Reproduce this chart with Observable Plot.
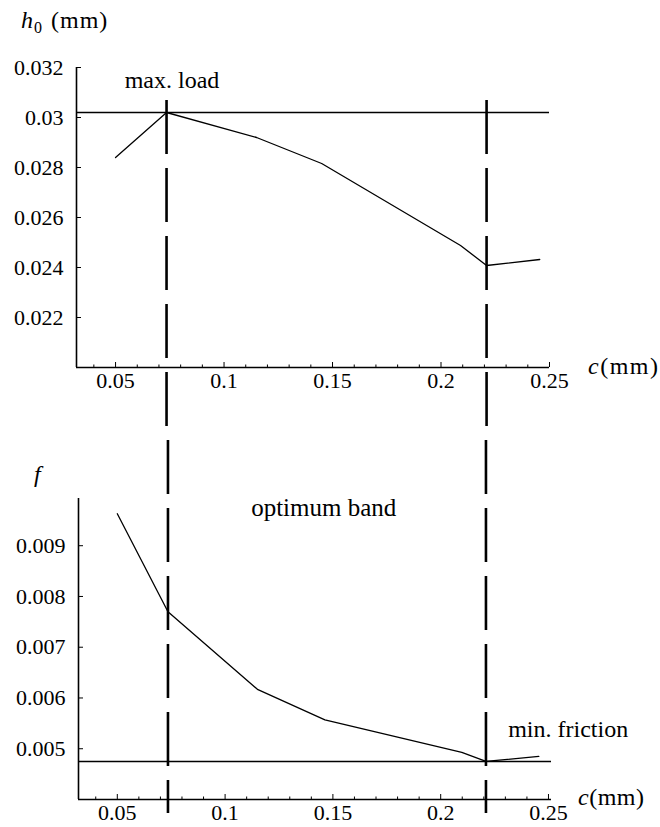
<!DOCTYPE html>
<html><head><meta charset="utf-8">
<script src="https://cdn.jsdelivr.net/npm/d3@7"></script>
<script src="https://cdn.jsdelivr.net/npm/@observablehq/plot@0.6"></script>
<style>
body{margin:0;background:#fff;}
#wrap{position:relative;width:660px;height:827px;overflow:hidden;font-family:'Liberation Serif';}
#wrap svg{position:absolute;left:0;}
.lbl{position:absolute;font-family:'Liberation Serif';line-height:0;white-space:nowrap;color:#000;}
</style></head><body><div id="wrap"></div>
<script>
// ---- data ----
const cH = [0.05, 0.0735, 0.115, 0.145, 0.209, 0.221, 0.2455];
const h0Values = [0.0284, 0.0302, 0.0292, 0.02816, 0.02488, 0.02408, 0.02432];
const cF = [0.05, 0.0735, 0.115, 0.1463, 0.2098, 0.221, 0.2455];
const fValues = [0.00963, 0.0077, 0.00617, 0.00557, 0.00493, 0.00475, 0.00485];
const xTicks = [0.05, 0.1, 0.15, 0.2, 0.25];
const xMinorTicks = [0.04,0.06,0.07,0.08,0.09,0.11,0.12,0.13,0.14,0.16,0.17,0.18,0.19,0.21,0.22,0.23,0.24];
const h0Ticks = [0.022, 0.024, 0.026, 0.028, 0.03, 0.032];
const fTicks = [0.005, 0.006, 0.007, 0.008, 0.009];
const optimumC = [0.0735, 0.221];
const maxLoad = [0.0302];
const minFriction = [0.00475];
const topNotes = [{c: 0.076, v: 0.0315, label: "max. load"}];
const bandNotes = [{c: (optimumC[0] + optimumC[1]) / 2 - 0.0015, v: 0.00975, label: "optimum band"}];
const frictionNotes = [{c: 0.2313, v: 0.00538, label: "min. friction"}];

const hData = cH.map((c, i) => ({c, v: h0Values[i]}));
const fData = cF.map((c, i) => ({c, v: fValues[i]}));

// ---- layout ----
const W = 660;
const topH = 430, botH = 397;
const topM = {l: 76, r: 111, t: 67, b: 63};
const botM = {l: 78, r: 109, t: 68, b: 28};
const xDomTop = [0.032, 0.25];
const xDomBot = [0.032, 0.2514];
const h0Dom = [0.020, 0.032];
const fDom = [0.004, 0.00993];

// dashed guide extents (pixel -> data through linear scales)
const yTopScale = d3.scaleLinear().domain(h0Dom).range([topH - topM.b, topM.t]);
const yBotScale = d3.scaleLinear().domain(fDom).range([botH - botM.b, botM.t]);
const dashTop1 = yTopScale.invert(100), dashTop2 = yTopScale.invert(topH);
const dashBot1 = yBotScale.invert(0), dashBot2 = yBotScale.invert(383);
const DASH = "54,14";

function axes(xDom, yDom, yTicks) {
  return [
    Plot.axisY(yTicks, {tickSize: 0, tickPadding: 13, tickFormat: d => String(d), fontSize: 22, label: null}),
    Plot.axisY(yTicks, {tickSize: -5, tickFormat: () => "", label: null}),
    Plot.axisX(xTicks, {tickSize: 0, tickPadding: 5, tickFormat: d => String(d), fontSize: 22, label: null}),
    Plot.axisX(xTicks, {tickSize: -5, tickFormat: () => "", label: null}),
    Plot.axisX(xMinorTicks, {tickSize: -2.5, tickFormat: () => "", label: null}),
    Plot.ruleX([xDom[0]], {strokeWidth: 1.6}),
    Plot.ruleY([yDom[0]], {strokeWidth: 1.6})
  ];
}

const STYLE = "font-family:'Liberation Serif';font-size:22px;color:#000;background:transparent";

const topPlot = Plot.plot({
  width: W, height: topH,
  marginLeft: topM.l, marginRight: topM.r, marginTop: topM.t, marginBottom: topM.b,
  x: {domain: xDomTop, label: null}, y: {domain: h0Dom, label: null},
  style: STYLE,
  marks: [
    ...axes(xDomTop, h0Dom, h0Ticks),
    Plot.ruleY(maxLoad, {strokeWidth: 1.5}),
    Plot.line(hData, {x: "c", y: "v", stroke: "#000", strokeWidth: 1.3}),
    Plot.ruleX(optimumC, {y1: dashTop1, y2: dashTop2, strokeWidth: 2.6, strokeDasharray: DASH}),
    Plot.text(topNotes, {x: "c", y: "v", text: "label", fontSize: 24})
  ]
});

const botPlot = Plot.plot({
  width: W, height: botH,
  marginLeft: botM.l, marginRight: botM.r, marginTop: botM.t, marginBottom: botM.b,
  x: {domain: xDomBot, label: null}, y: {domain: fDom, label: null},
  style: STYLE,
  marks: [
    ...axes(xDomBot, fDom, fTicks),
    Plot.ruleY(minFriction, {strokeWidth: 1.5}),
    Plot.line(fData, {x: "c", y: "v", stroke: "#000", strokeWidth: 1.3}),
    Plot.ruleX(optimumC, {y1: dashBot1, y2: dashBot2, strokeWidth: 2.6, strokeDasharray: DASH, strokeDashoffset: 58}),
    Plot.text(bandNotes, {x: "c", y: "v", text: "label", fontSize: 25}),
    Plot.text(frictionNotes, {x: "c", y: "v", text: "label", fontSize: 24, textAnchor: "start"})
  ]
});

const wrap = document.getElementById("wrap");
topPlot.style.top = "0px";
botPlot.style.top = topH + "px";
wrap.appendChild(topPlot);
wrap.appendChild(botPlot);

// axis titles (HTML), positioned by baseline
function label(html, left, baseline, fs, spacing) {
  const d = document.createElement("div");
  d.className = "lbl";
  d.style.fontSize = fs + "px";
  d.style.left = left + "px";
  d.style.top = (baseline - 0.3375 * fs) + "px";
  if (spacing) d.style.letterSpacing = spacing + "px";
  d.innerHTML = html;
  wrap.appendChild(d);
}
label('<i>h</i><span style="font-size:16px;position:relative;top:5px">0</span><span style="margin-left:8px">(mm)</span>', 21, 28, 24, 1);
label('<i>c</i>(mm)', 588, 374, 24, 1.5);
label('<i>f</i>', 34, 482, 24);
label('<i>c</i>(mm)', 578, 805, 24, 0.5);
</script>
</body></html>
